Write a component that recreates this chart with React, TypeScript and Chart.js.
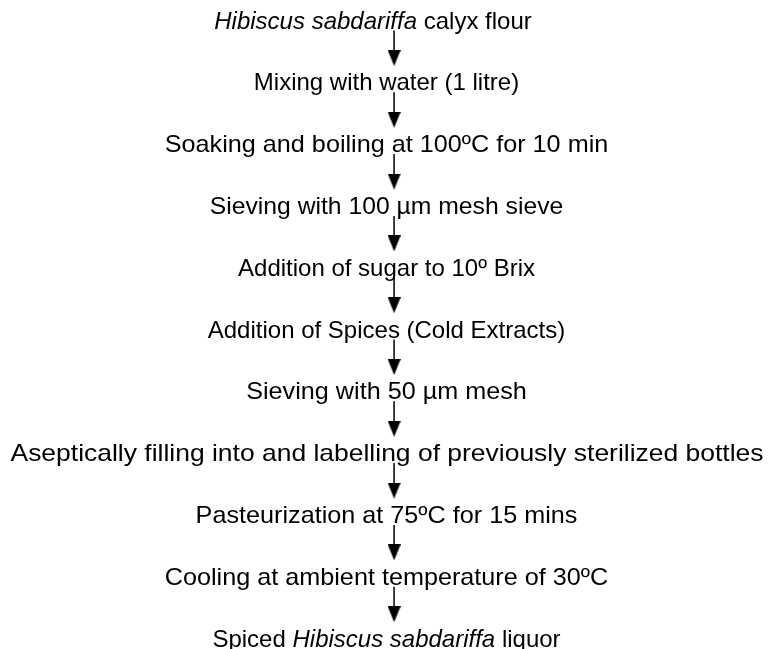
import React, { useEffect, useRef } from "react";
import { Chart, registerables } from "chart.js";

Chart.register(...registerables);

// ---- data ----
const STEPS: string[] = [
  "*Hibiscus sabdariffa* calyx flour",
  "Mixing with water (1 litre)",
  "Soaking and boiling at 100ºC for 10 min",
  "Sieving with 100 µm mesh sieve",
  "Addition of sugar to 10º Brix",
  "Addition of Spices (Cold Extracts)",
  "Sieving with 50 µm mesh",
  "Aseptically filling into and labelling of previously sterilized bottles",
  "Pasteurization at 75ºC for 15 mins",
  "Cooling at ambient temperature of 30ºC",
  "Spiced *Hibiscus sabdariffa* liquor",
];
const STEP_INDEX: number[] = STEPS.map((_, i) => i);
const ARROWS: [number, number][] = STEP_INDEX.slice(0, -1).map((i) => [i, i + 1]);

// ---- style ----
const FONT_FAMILY = '"Liberation Sans", Arial, sans-serif';
const FONT_SIZE = 24;
const TEXT_X = 0;
const ARROW_X = 0.02;
const ARROW_START = 0.17;
const ARROW_HEAD = 0.615;
const HEAD_W = 13;
const HEAD_H = 16;
// per-line horizontal stretch and centre shift (px), as seen in the reference
const LINE_STRETCH = [1.0, 1.0, 1.05, 1.03, 1.0, 1.0, 1.05, 1.1025, 1.05, 1.05, 1.0];
const LINE_SHIFT = [-13.5, 0, 0, 0, 0, 0, 0, 0.5, 0, 0, 0];

function parseSegments(s: string): { text: string; italic: boolean }[] {
  const parts = s.split("*");
  return parts
    .map((t, i) => ({ text: t, italic: i % 2 === 1 }))
    .filter((p) => p.text.length > 0);
}

function makeArrowHead(): HTMLCanvasElement {
  const c = document.createElement("canvas");
  c.width = HEAD_W;
  c.height = HEAD_H;
  const g = c.getContext("2d")!;
  g.fillStyle = "#000";
  g.beginPath();
  g.moveTo(0, 0);
  g.lineTo(HEAD_W, 0);
  g.lineTo(HEAD_W / 2, HEAD_H);
  g.closePath();
  g.fill();
  return c;
}

const textPlugin = {
  id: "flowText",
  afterDatasetsDraw(chart: any) {
    const { ctx, scales } = chart;
    const xs = scales.x;
    const ys = scales.y;
    ctx.save();
    ctx.fillStyle = "#000";
    ctx.textBaseline = "alphabetic";
    ctx.textAlign = "left";
    STEPS.forEach((s, i) => {
      const segs = parseSegments(s);
      const widths = segs.map((seg) => {
        ctx.font = `${seg.italic ? "italic " : ""}${FONT_SIZE}px ${FONT_FAMILY}`;
        return ctx.measureText(seg.text).width;
      });
      const total = widths.reduce((a, b) => a + b, 0);
      const cx = xs.getPixelForValue(TEXT_X) + LINE_SHIFT[i];
      const cy = ys.getPixelForValue(STEP_INDEX[i]);
      const baseline = cy + (FONT_SIZE * 0.716) / 2;
      const sx = LINE_STRETCH[i];
      ctx.save();
      ctx.translate(cx, baseline);
      ctx.scale(sx, 1);
      let x = -total / 2;
      segs.forEach((seg, k) => {
        ctx.font = `${seg.italic ? "italic " : ""}${FONT_SIZE}px ${FONT_FAMILY}`;
        ctx.fillText(seg.text, x, 0);
        x += widths[k];
      });
      ctx.restore();
    });
    ctx.restore();
  },
};

export default function App() {
  const ref = useRef<HTMLCanvasElement | null>(null);
  useEffect(() => {
    if (!ref.current) return;
    const head = makeArrowHead();
    const datasets = ARROWS.map(([a, b]) => ({
      type: "line" as const,
      data: [
        { x: ARROW_X, y: a + ARROW_START },
        { x: ARROW_X, y: b - 1 + ARROW_HEAD },
      ],
      borderColor: "#000",
      backgroundColor: "#000",
      borderWidth: 1.5,
      pointStyle: [false, head] as any,
      pointRadius: [0, 8],
      pointBorderWidth: 0,
      showLine: true,
    }));
    const chart = new Chart(ref.current, {
      type: "scatter",
      data: { datasets },
      options: {
        animation: false,
        responsive: true,
        maintainAspectRatio: false,
        layout: { padding: { left: 5, right: 0, top: 20, bottom: 11 } },
        plugins: { legend: { display: false }, tooltip: { enabled: false } },
        scales: {
          x: { type: "linear", min: -1, max: 1, display: false },
          y: { type: "linear", min: 0, max: 10, reverse: true, display: false },
        },
      },
      plugins: [textPlugin],
    });
    return () => chart.destroy();
  }, []);
  return (
    <div style={{ position: "absolute", left: 0, top: 0, width: 773, height: 649, background: "#fff" }}>
      <canvas ref={ref} />
    </div>
  );
}
